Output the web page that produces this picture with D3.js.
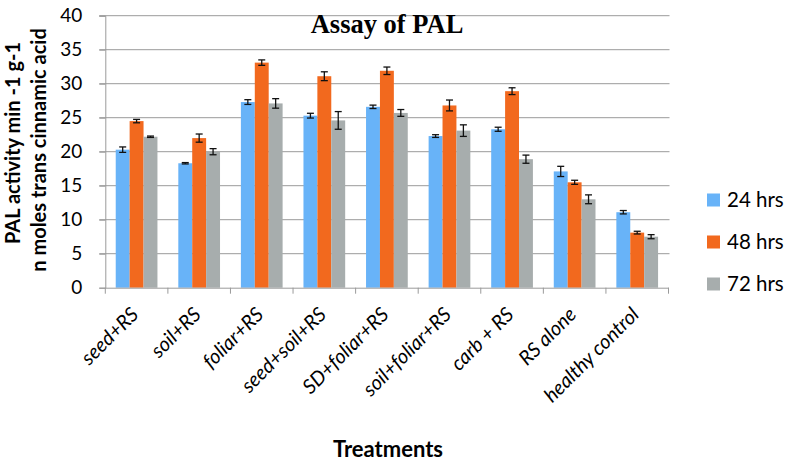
<!DOCTYPE html>
<html>
<head>
<meta charset="utf-8">
<script src="https://cdn.jsdelivr.net/npm/d3@7"></script>
<style>
  html, body { margin: 0; padding: 0; background: #fff; }
  svg { display: block; }
</style>
</head>
<body>
<svg id="chart" width="786" height="465"></svg>
<script>
const categories = ["seed+RS", "soil+RS", "foliar+RS", "seed+soil+RS", "SD+foliar+RS", "soil+foliar+RS", "carb + RS", "RS alone", "healthy control"];
const seriesNames = ["24 hrs", "48 hrs", "72 hrs"];
const values24 = [20.3, 18.3, 27.3, 25.3, 26.6, 22.3, 23.3, 17.1, 11.1];
const values48 = [24.5, 22.0, 33.1, 31.1, 31.9, 26.8, 28.9, 15.5, 8.1];
const values72 = [22.2, 20.0, 27.1, 24.6, 25.7, 23.1, 18.9, 13.0, 7.5];
const errors24 = [0.4, 0.1, 0.35, 0.35, 0.25, 0.2, 0.3, 0.75, 0.25];
const errors48 = [0.25, 0.6, 0.4, 0.65, 0.55, 0.8, 0.5, 0.3, 0.2];
const errors72 = [0.1, 0.45, 0.7, 1.3, 0.5, 0.85, 0.6, 0.65, 0.3];
const yTicks = [0, 5, 10, 15, 20, 25, 30, 35, 40];
const colors = ["#68B3F8", "#F2691E", "#A7ADAD"];

const seriesValues = [values24, values48, values72];
const seriesErrors = [errors24, errors48, errors72];

const svg = d3.select("#chart");
const font = "Lato, 'Open Sans', sans-serif";
const pLeft = 105.3, pRight = 668.5, pTop = 15.7, pBottom = 287.7;

const x0 = d3.scaleBand().domain(categories).range([pLeft, pRight]).padding(0);
const bw = x0.bandwidth();
const barW = bw / 4.5;
const x1 = d3.scaleBand().domain(seriesNames).range([barW * 0.75, bw - barW * 0.75]).padding(0);
const y = d3.scaleLinear().domain([0, 40]).range([pBottom, pTop]);

// gridlines
svg.append("g").selectAll("line").data(yTicks.filter(d => d > 0)).join("line")
  .attr("x1", pLeft - 6).attr("x2", pRight + 1)
  .attr("y1", d => y(d)).attr("y2", d => y(d))
  .attr("stroke", "#9A9A9A").attr("stroke-width", 1);

// y axis
const yAxis = svg.append("g").attr("transform", `translate(${pLeft},0)`)
  .call(d3.axisLeft(y).tickValues(yTicks).tickSize(6).tickPadding(17));
yAxis.select(".domain").attr("stroke", "#9A9A9A");
yAxis.selectAll(".tick line").attr("stroke", "#9A9A9A");
yAxis.selectAll("text").attr("font-family", font).attr("font-size", 19).attr("fill", "#000");

// bars
const groups = svg.append("g").selectAll("g").data(categories).join("g")
  .attr("transform", d => `translate(${x0(d)},0)`);

groups.each(function(cat, ci) {
  const g = d3.select(this);
  seriesNames.forEach((s, si) => {
    const v = seriesValues[si][ci];
    const e = seriesErrors[si][ci];
    const bx = x1(s);
    g.append("rect")
      .attr("x", bx).attr("width", x1.bandwidth())
      .attr("y", y(v)).attr("height", y(0) - y(v))
      .attr("fill", colors[si]);
    const cx = bx + x1.bandwidth() / 2;
    g.append("line").attr("x1", cx).attr("x2", cx).attr("y1", y(v + e)).attr("y2", y(v - e))
      .attr("stroke", "#111").attr("stroke-width", 1.3);
    [v + e, v - e].forEach(yy => {
      g.append("line").attr("x1", cx - 3.5).attr("x2", cx + 3.5).attr("y1", y(yy)).attr("y2", y(yy))
        .attr("stroke", "#111").attr("stroke-width", 1.3);
    });
  });
});

// x axis
const xAxis = svg.append("g").attr("transform", `translate(0,${pBottom})`)
  .call(d3.axisBottom(x0).tickSize(0).tickFormat(""));
xAxis.select(".domain").attr("stroke", "#9A9A9A");
svg.append("g").selectAll("line").data(categories.concat(["__end"])).join("line")
  .attr("x1", (d, i) => pLeft + i * bw).attr("x2", (d, i) => pLeft + i * bw)
  .attr("y1", pBottom).attr("y2", pBottom + 6)
  .attr("stroke", "#9A9A9A");

svg.append("g").selectAll("text").data(categories).join("text")
  .attr("transform", d => `translate(${x0(d) + bw / 2 + 3},${pBottom + 28}) rotate(-45)`)
  .attr("text-anchor", "end")
  .attr("font-family", font).attr("font-style", "italic").attr("font-size", 20)
  .text(d => d);

// title
svg.append("text").attr("x", 387).attr("y", 33).attr("text-anchor", "middle")
  .attr("font-family", "'Liberation Serif', 'Times New Roman', serif").attr("font-weight", "bold").attr("font-size", 26.5)
  .text("Assay of PAL");

// axis titles
svg.append("text").attr("transform", "translate(20,143) rotate(-90)").attr("text-anchor", "middle")
  .attr("font-family", font).attr("font-weight", "bold").attr("font-size", 20)
  .text("PAL activity min -1 g-1");
svg.append("text").attr("transform", "translate(46,150) rotate(-90)").attr("text-anchor", "middle")
  .attr("font-family", font).attr("font-weight", "bold").attr("font-size", 20)
  .text("n moles trans cinnamic acid");
svg.append("text").attr("x", 388).attr("y", 457).attr("text-anchor", "middle")
  .attr("font-family", font).attr("font-weight", "bold").attr("font-size", 22)
  .text("Treatments");

// legend
const legend = svg.append("g").selectAll("g").data(seriesNames).join("g")
  .attr("transform", (d, i) => `translate(707,${200 + i * 42})`);
legend.append("rect").attr("x", 0).attr("y", -6.5).attr("width", 13).attr("height", 13)
  .attr("fill", (d, i) => colors[i]);
legend.append("text").attr("x", 20).attr("dy", "0.35em")
  .attr("font-family", font).attr("font-size", 20.5)
  .text(d => d);
</script>
</body>
</html>
